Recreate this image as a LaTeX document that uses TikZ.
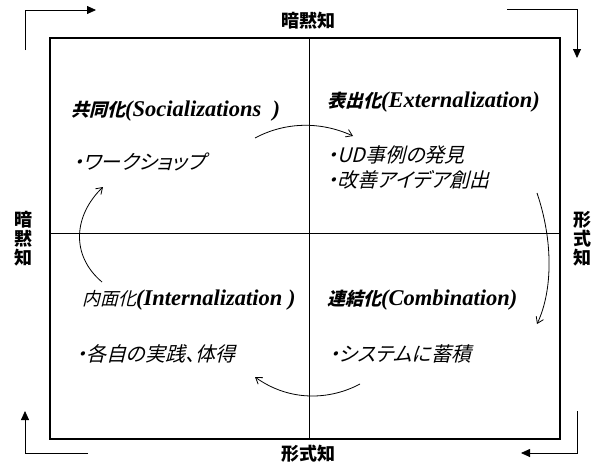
\documentclass[tikz,border=0pt]{standalone}
\usepackage{fontspec}
\usetikzlibrary{arrows.meta}
\setmainfont{Liberation Serif}
\newfontfamily\jpg{Noto Sans CJK JP}
\newfontfamily\jpit[FakeSlant=0.25,RawFeature=+palt]{Noto Sans CJK JP}
\newcommand{\jpbt}[1]{{\jpit\bfseries #1}}
\newcommand{\lat}[1]{{\fontsize{22.5}{24}\selectfont\bfseries\itshape #1}}
\begin{document}
\begin{tikzpicture}[x=1pt,y=-1pt,
  axislbl/.style={font=\jpg\bfseries\fontsize{18}{19}\selectfont,inner sep=0pt},
  qtitle/.style={anchor=base west,inner sep=0pt,font=\fontsize{18}{20}\selectfont},
  qitem/.style={anchor=base west,inner sep=0pt,font=\jpit\fontsize{20}{22}\selectfont,align=left},
  corner/.style={line width=0.8pt,-{Triangle[length=9pt,width=8pt]}},
  cyc/.style={line width=0.8pt,-{Straight Barb[length=6pt,width=8pt]}}]
\useasboundingbox (0,0) rectangle (599,467);
% box
\draw[line width=1.1pt] (50,38) rectangle (560,439);
\draw[line width=0.8pt] (309,38) -- (309,439);
\draw[line width=0.8pt] (50,233) -- (560,233);
% corner arrows
\coordinate (tl0) at (25,50); \coordinate (tl1) at (25,10); \coordinate (tl2) at (96,10);
\draw[corner] (tl0) -- (tl1) -- (tl2);
\coordinate (tr0) at (507,9); \coordinate (tr1) at (577,9); \coordinate (tr2) at (577,58);
\draw[corner] (tr0) -- (tr1) -- (tr2);
\coordinate (br0) at (577,411); \coordinate (br1) at (577,453); \coordinate (br2) at (521,453);
\draw[corner] (br0) -- (br1) -- (br2);
\coordinate (bl0) at (88,453); \coordinate (bl1) at (25,453); \coordinate (bl2) at (25,411);
\draw[corner] (bl0) -- (bl1) -- (bl2);
% axis labels
\node[axislbl] (top) at (308,21) {暗黙知};
\node[axislbl] (bot) at (308,454) {形式知};
\node[axislbl,align=center] (lft) at (23,239) {暗\\[0pt]黙\\[0pt]知};
\node[axislbl,align=center] (rgt) at (582,239) {形\\[0pt]式\\[0pt]知};
% quadrant texts
\node[qtitle] (soc) at (71,116) {\jpbt{共同化}\lat{(Socializations\ \ )}};
\node[qitem] (socA) at (73,169) {・ワークショップ};
\node[qtitle] (ext) at (327,107) {\jpbt{表出化}\lat{(Externalization)}};
\node[qitem] (extA) at (327,162) {・UD事例の発見};
\node[qitem] (extB) at (327,187) {・改善アイデア創出};
\node[qtitle] (int) at (82,305) {{\jpit 内面化}\lat{(Internalization )}};
\node[qitem] (intA) at (76,361) {・各自の実践、体得};
\node[qtitle] (com) at (327,305) {\jpbt{連結化}\lat{(Combination)}};
\node[qitem] (comA) at (329,361) {・システムに蓄積};
% cycle arrows
\coordinate (a1s) at (255,138); \coordinate (a1e) at (353,136);
\draw[cyc] (a1s) .. controls (285,122) and (320,121) .. (a1e);
\coordinate (a2s) at (537,193); \coordinate (a2e) at (537,324);
\draw[cyc] (a2s) .. controls (553,240) and (553,290) .. (a2e);
\coordinate (a3s) at (360,384); \coordinate (a3e) at (255,377);
\draw[cyc] (a3s) .. controls (330,400) and (290,402) .. (a3e);
\coordinate (a4s) at (102,282); \coordinate (a4e) at (103,187);
\draw[cyc] (a4s) .. controls (70,255) and (74,215) .. (a4e);
\end{tikzpicture}
\end{document}
